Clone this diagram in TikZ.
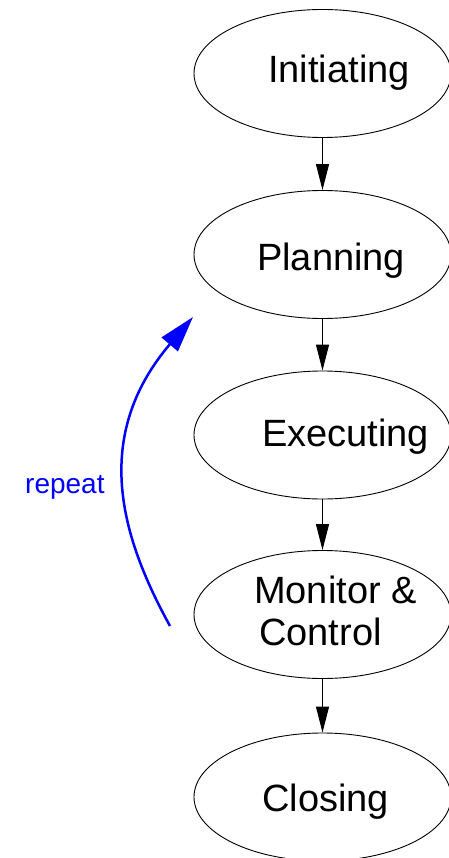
\documentclass[tikz,border=0pt]{standalone}
\usepackage{fontspec}
\setmainfont{Liberation Sans}
\usetikzlibrary{arrows.meta,shapes.geometric}
\begin{document}
\begin{tikzpicture}[x=1pt,y=-1pt,
  phase/.style={draw=black,line width=0.9pt,ellipse,minimum width=257pt,minimum height=128pt,inner sep=0pt},
  lbl/.style={anchor=base west,inner sep=0pt,font=\fontsize{38}{45}\selectfont},
  flow/.style={draw=black,line width=1pt,-{Triangle[length=26pt,width=13pt]}},
  loopc/.style={draw=blue,line width=2.5pt,-{Triangle[length=36pt,width=21pt]}}]
\useasboundingbox (0,0) rectangle (448,858);
\node[phase] (e1) at (322.5,73.5) {};
\node[phase] (e2) at (322.5,254.5) {};
\node[phase] (e3) at (322.5,435) {};
\node[phase] (e4) at (322.5,614.5) {};
\node[phase] (e5) at (322.5,797) {};
\node[lbl] (t1) at (268,83) {Initiating};
\node[lbl] (t2) at (257,270) {Planning};
\node[lbl] (t3) at (262,446) {Executing};
\node[lbl] (t4a) at (254,603) {Monitor \&};
\node[lbl] (t4b) at (259,645) {Control};
\node[lbl] (t5) at (262,811) {Closing};
\draw[flow] (e1.south) -- (e2.north);
\draw[flow] (e2.south) -- (e3.north);
\draw[flow] (e3.south) -- (e4.north);
\draw[flow] (e4.south) -- (e5.north);
\coordinate (rs) at (170,626);
\coordinate (re) at (193,317);
\draw[loopc] (rs) .. controls (121,537) and (91,437) .. (re);
\node[anchor=base west,inner sep=0pt,text=blue,font=\fontsize{28}{34}\selectfont] (rp) at (25,493) {repeat};
\end{tikzpicture}
\end{document}
